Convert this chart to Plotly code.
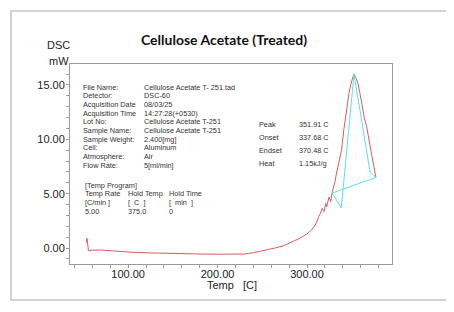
import plotly.graph_objects as go

# ---- data ----
temp = [53, 54, 55.6, 60, 68.7, 85, 105.6, 125, 143, 160, 180, 200, 217, 230, 240, 248, 255, 264, 273, 282, 292, 300, 305,
        309, 311, 313, 315, 317, 319, 321, 322, 324.6, 326.5, 328, 331, 333, 336, 338.6, 341, 344, 347, 350, 352.5,
        355, 357, 359, 362, 364, 366.6, 369, 372, 374.5, 377]
dsc = [0.5, 0.9, -0.25, -0.2, -0.18, -0.3, -0.4, -0.45, -0.5, -0.52, -0.55, -0.57, -0.58, -0.55, -0.43, -0.3, -0.18, 0.0, 0.18, 0.5, 0.9, 1.3, 1.65,
       2.1, 2.4, 2.9, 3.2, 3.65, 3.35, 4.1, 3.8, 4.7, 4.26, 5.1, 6.0, 6.9, 8.0, 9.0, 10.8, 12.7, 14.3, 15.4, 16.0,
       15.6, 15.1, 14.3, 12.9, 12.0, 11.2, 9.9, 8.7, 7.6, 6.5]
base_t = [328, 377, 370.5, 352.5, 338.3, 328]
base_v = [5.05, 6.5, 7.0, 16.0, 3.7, 5.05]

x_ticks = [100, 200, 300]
y_ticks = [0, 5, 10, 15]

info_labels = ["File Name:", "Detector:", "Acquisition Date", "Acquisition Time", "Lot No:", "Sample Name:",
               "Sample Weight:", "Cell:", "Atmosphere:", "Flow Rate:"]
info_values = ["Cellulose Acetate T- 251.tad", "DSC-60", "08/03/25", "14:27:28(+0530)", "Cellulose Acetate T-251",
               "Cellulose Acetate T-251", "2.400[mg]", "Aluminum", "Air", "5[ml/min]"]
prog_rows = [["[Temp Program]", "", ""], ["Temp Rate", "Hold Temp", "Hold Time"], ["[C/min ]", "[  C  ]", "[  min  ]"],
             ["5.00", "375.0", "0"]]
res_labels = ["Peak", "Onset", "Endset", "Heat"]
res_values = ["351.91 C", "337.68 C", "370.48 C", "1.15kJ/g"]

# ---- layout geometry (pixels in the 454x312 window; the page body has an 8px margin) ----
OFF = 8
W, H = 454 - OFF, 312 - OFF
L, R, T, B = 70, 392, 64, 264


def px(x):
    return (x - L) / (R - L)


def py(y):
    return (B - y) / (B - T)


fig = go.Figure()
fig.add_trace(go.Scatter(x=temp, y=dsc, mode="lines", line=dict(color="rgb(222,90,95)", width=1), hoverinfo="skip"))
fig.add_trace(go.Scatter(x=base_t, y=base_v, mode="lines", line=dict(color="rgb(90,225,235)", width=1), hoverinfo="skip"))

ann = []
small = dict(family="Liberation Sans, Arial", size=7.3, color="#333")
axfont = dict(family="Liberation Sans, Arial", size=11, color="#222")


def txt(x, y, s, font, xanchor="left"):
    ann.append(dict(x=px(x), y=py(y), xref="paper", yref="paper", text=s, showarrow=False,
                    xanchor=xanchor, yanchor="middle", font=font))


for i, (a, b) in enumerate(zip(info_labels, info_values)):
    y = 87 + i * 8.7
    txt(81, y, a, small)
    txt(142, y, b, small)
for i, row in enumerate(prog_rows):
    y = 185 + i * 8.8
    for xx, s in zip([83, 126, 167], row):
        if s:
            txt(xx, y, s, small)
for i, (a, b) in enumerate(zip(res_labels, res_values)):
    y = 124 + i * 13.3
    txt(257, y, a, small)
    txt(297, y, b, small)

txt(224, 40, "<b>Cellulose Acetate (Treated)</b>", dict(family="Lato, Carlito, sans-serif", size=14, color="#111"), "center")
txt(72, 45, "DSC", axfont, "right")
txt(71, 61, "mW", axfont, "right")
txt(232, 285, "Temp   [C]", axfont, "center")

fig.update_layout(
    width=W, height=H, margin=dict(l=L - OFF, r=W - (R - OFF), t=T - OFF, b=H - (B - OFF)),
    paper_bgcolor="white", plot_bgcolor="white", showlegend=False,
    annotations=ann,
    shapes=[dict(type="rect", xref="paper", yref="paper", x0=px(11), x1=px(449), y0=py(300), y1=py(11),
                 line=dict(color="#c4c4c4", width=1.5), layer="below")],
    xaxis=dict(range=[35, 395], tickvals=x_ticks, ticktext=[f"{v:.2f}" for v in x_ticks],
               showgrid=False, zeroline=False, showline=True, mirror=True, linecolor="#9a9a9a", linewidth=1,
               ticks="outside", ticklen=3, tickcolor="#9a9a9a", ticklabelstandoff=-3,
               minor=dict(dtick=20, tick0=0, ticks="outside", ticklen=3, tickcolor="#9a9a9a"),
               tickfont=axfont),
    yaxis=dict(range=[-1.47, 16.93], tickvals=y_ticks, ticktext=[f"{v:.2f}" for v in y_ticks],
               showgrid=False, zeroline=False, showline=True, mirror=True, linecolor="#9a9a9a", linewidth=1,
               ticks="outside", ticklen=3, tickcolor="#9a9a9a", ticklabelstandoff=-1,
               minor=dict(dtick=1, tick0=0, ticks="outside", ticklen=3, tickcolor="#9a9a9a"),
               tickfont=axfont),
)

fig.write_html("out.html")
